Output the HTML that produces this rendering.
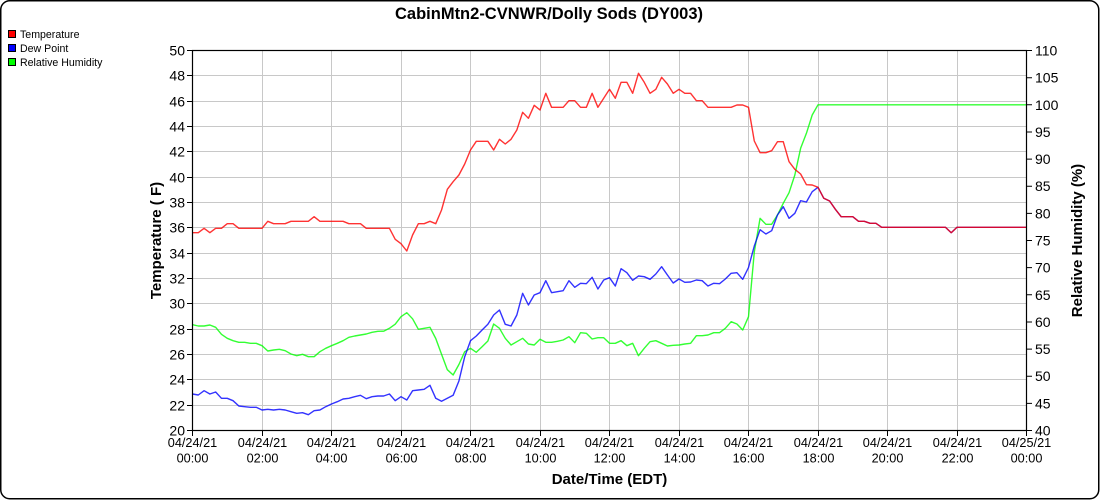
<!DOCTYPE html>
<html>
<head>
<meta charset="utf-8">
<style>
  html,body{margin:0;padding:0;background:#fff;}
  svg{display:block;}
  text{font-family:"Liberation Sans",Arial,sans-serif;fill:#000;}
</style>
</head>
<body>
<svg width="1100" height="500" viewBox="0 0 1100 500" xmlns="http://www.w3.org/2000/svg">
  <rect x="0" y="0" width="1100" height="500" fill="#fff"/>
  <rect x="0.75" y="0.75" width="1098" height="498" rx="9" ry="9" fill="none" stroke="#000" stroke-width="1.5"/>

  <!-- title -->
  <text x="549" y="19" font-size="16.5" font-weight="bold" text-anchor="middle">CabinMtn2-CVNWR/Dolly Sods (DY003)</text>

  <!-- legend -->
  <rect x="8.5" y="30.5" width="7" height="7" fill="#ff0000" stroke="#000" stroke-width="1"/>
  <text x="20" y="38" font-size="10.6">Temperature</text>
  <rect x="8.5" y="44.5" width="7" height="7" fill="#0000ff" stroke="#000" stroke-width="1"/>
  <text x="20" y="52" font-size="10.6">Dew Point</text>
  <rect x="8.5" y="58.5" width="7" height="7" fill="#00ff00" stroke="#000" stroke-width="1"/>
  <text x="20" y="66" font-size="10.6">Relative Humidity</text>

  <!-- grid -->
  <g stroke="#c8c8c8" stroke-width="1" fill="none">
    <path d="M192.5 405.5H1026.5M192.5 379.5H1026.5M192.5 354.5H1026.5M192.5 329.5H1026.5M192.5 303.5H1026.5M192.5 278.5H1026.5M192.5 253.5H1026.5M192.5 227.5H1026.5M192.5 202.5H1026.5M192.5 177.5H1026.5M192.5 151.5H1026.5M192.5 126.5H1026.5M192.5 101.5H1026.5M192.5 75.5H1026.5"/>
    <path d="M262.5 50.5V430.5M331.5 50.5V430.5M401.5 50.5V430.5M470.5 50.5V430.5M540.5 50.5V430.5M609.5 50.5V430.5M679.5 50.5V430.5M748.5 50.5V430.5M818.5 50.5V430.5M887.5 50.5V430.5M957.5 50.5V430.5"/>
  </g>

  <!-- series -->
  <g transform="translate(192.5,0) scale(5.7917,1)" fill="none" stroke-width="1.4" stroke-linejoin="round">
    <polyline vector-effect="non-scaling-stroke" stroke="#00ff00" stroke-opacity="0.8" points="0,324.7 1,326 2,326 3,325 4,327.3 5,334.3 6,338.3 7,340.7 8,342.3 9,342.3 10,343.3 11,343.3 12,345.7 13,351 14,350 15,349.3 16,350.7 17,354 18,355.7 19,354.3 20,356.7 21,356.7 22,351.7 23,348.3 24,345.7 25,343.3 26,340.7 27,337.3 28,336 29,335 30,334 31,332.3 32,331.3 33,331.2 34,328.3 35,324.2 36,316.7 37,312.7 38,318.8 39,329.3 40,328.3 41,327.3 42,338.5 43,354.2 44,369.7 45,375 46,364.5 47,351.7 48,348.3 49,352.3 50,346.7 51,341 52,324 53,328.3 54,338.3 55,345 56,341.7 57,338.3 58,344 59,345 60,339.3 61,342.3 62,342.3 63,341.3 64,340 65,336.7 66,342.7 67,332.7 68,333.3 69,339 70,337.7 71,337.7 72,343.3 73,343.3 74,340.7 75,345.7 76,343.3 77,355.7 78,348.3 79,341.7 80,340.7 81,343.3 82,346 83,345.3 84,345 85,344 86,343.3 87,335.7 88,335.7 89,335 90,332.7 91,332.7 92,328.3 93,321.7 94,324 95,330 96,316.7 97,252 98,218.3 99,224.3 100,224.3 101,215 102,203.3 103,192.7 104,175 105,148.3 106,133.3 107,115 108,104.8 144,104.8"/>
    <polyline vector-effect="non-scaling-stroke" stroke="#0000ff" stroke-opacity="0.8" points="0,394 1,395 2,390.7 3,394 4,392 5,398.3 6,398.3 7,400.7 8,406 9,406.7 10,407.3 11,407.3 12,410 13,409.3 14,410 15,409.3 16,410 17,411.7 18,413.3 19,412.7 20,414.7 21,410.7 22,410 23,406.7 24,404 25,401.7 26,399 27,398.3 28,396.7 29,395.3 30,398.7 31,396.7 32,396 33,396 34,394 35,400.7 36,396.7 37,400 38,390.7 39,390 40,389.3 41,385.3 42,398.3 43,401.3 44,398.3 45,395.3 46,381 47,356.7 48,340.7 49,336 50,330 51,324.3 52,315 53,310 54,324.3 55,326 56,315 57,293.3 58,305 59,295 60,292.7 61,280.7 62,292.7 63,291.7 64,290.7 65,280.7 66,287.3 67,283.3 68,283.7 69,277.3 70,289 71,280 72,277.7 73,286 74,268.7 75,272.7 76,280.3 77,276 78,276.7 79,279.3 80,274 81,266.7 82,275 83,283 84,279 85,282.3 86,282 87,280 88,280.7 89,286 90,283.3 91,283.7 92,279 93,273.3 94,272.7 95,279.3 96,267.5 97,246 98,229.7 99,234 100,230.7 101,215 102,206.7 103,218.3 104,213.3 105,200.7 106,202 107,191.7 108,187.3 109,198.3 110,201 111,209.3 112,216.7 114,216.7 115,221.3 116,221.3 117,223.3 118,223.3 119,227.3 130,227.3 131,232.7 132,227.3 144,227.3"/>
    <polyline vector-effect="non-scaling-stroke" stroke="#ff0000" stroke-opacity="0.8" points="0,232.7 1,232.7 2,228.3 3,232.7 4,228.3 5,228.3 6,223.7 7,223.7 8,228.3 12,228.3 13,221.3 14,223.7 16,223.7 17,221.3 20,221.3 21,216.7 22,221.3 26,221.3 27,223.7 29,223.7 30,228.3 34,228.3 35,239.3 36,243.7 37,251 38,235 39,223.7 40,223.7 41,221.3 42,223.7 43,210 44,189.3 45,181.7 46,175 47,164 48,150 49,141.3 51,141.3 52,150 53,139.3 54,144 55,139.3 56,130 57,112.3 58,118.3 59,105.3 60,110 61,93.3 62,107.3 64,107.3 65,100.7 66,100.7 67,107.3 68,107.3 69,93.3 70,107.3 71,98.3 72,89.3 73,98.3 74,82.3 75,82.3 76,93.3 77,73.3 78,82.3 79,93.3 80,89.3 81,77.3 82,84 83,93.3 84,89.3 85,93.3 86,93.3 87,100.7 88,100.7 89,107.3 93,107.3 94,105 95,105 96,107.3 97,141 98,152.7 99,152.7 100,150.7 101,141.7 102,141.7 103,161.7 104,169.3 105,174 106,184.7 107,185 108,187.3 109,198.3 110,201 111,209.3 112,216.7 114,216.7 115,221.3 116,221.3 117,223.3 118,223.3 119,227.3 130,227.3 131,232.7 132,227.3 144,227.3"/>
  </g>

  <!-- plot frame -->
  <rect x="192.5" y="50.5" width="834" height="380" fill="none" stroke="#000" stroke-width="1.2"/>

  <!-- left ticks -->
  <g stroke="#000" stroke-width="1">
    <path d="M187 430.5H192.5M187 405.5H192.5M187 379.5H192.5M187 354.5H192.5M187 329.5H192.5M187 303.5H192.5M187 278.5H192.5M187 253.5H192.5M187 227.5H192.5M187 202.5H192.5M187 177.5H192.5M187 151.5H192.5M187 126.5H192.5M187 101.5H192.5M187 75.5H192.5M187 50.5H192.5"/>
    <path d="M1026.5 430.5H1032M1026.5 403.4H1032M1026.5 376.2H1032M1026.5 349.1H1032M1026.5 322H1032M1026.5 294.8H1032M1026.5 267.6H1032M1026.5 240.5H1032M1026.5 213.4H1032M1026.5 186.2H1032M1026.5 159.1H1032M1026.5 132H1032M1026.5 104.8H1032M1026.5 77.7H1032M1026.5 50.5H1032"/>
    <path d="M192.5 430.5V436M262.5 430.5V436M331.5 430.5V436M401.5 430.5V436M470.5 430.5V436M540.5 430.5V436M609.5 430.5V436M679.5 430.5V436M748.5 430.5V436M818.5 430.5V436M887.5 430.5V436M957.5 430.5V436M1026.5 430.5V436"/>
  </g>

  <!-- left labels -->
  <g font-size="14" text-anchor="end">
    <text x="185" y="435.5">20</text>
    <text x="185" y="410.5">22</text>
    <text x="185" y="384.5">24</text>
    <text x="185" y="359.5">26</text>
    <text x="185" y="334.5">28</text>
    <text x="185" y="308.5">30</text>
    <text x="185" y="283.5">32</text>
    <text x="185" y="258.5">34</text>
    <text x="185" y="232.5">36</text>
    <text x="185" y="207.5">38</text>
    <text x="185" y="182.5">40</text>
    <text x="185" y="156.5">42</text>
    <text x="185" y="131.5">44</text>
    <text x="185" y="106.5">46</text>
    <text x="185" y="80.5">48</text>
    <text x="185" y="55.5">50</text>
  </g>

  <!-- right labels -->
  <g font-size="14" text-anchor="start">
    <text x="1035" y="435.5">40</text>
    <text x="1035" y="408.4">45</text>
    <text x="1035" y="381.2">50</text>
    <text x="1035" y="354.1">55</text>
    <text x="1035" y="327">60</text>
    <text x="1035" y="299.8">65</text>
    <text x="1035" y="272.6">70</text>
    <text x="1035" y="245.5">75</text>
    <text x="1035" y="218.4">80</text>
    <text x="1035" y="191.2">85</text>
    <text x="1035" y="164.1">90</text>
    <text x="1035" y="137">95</text>
    <text x="1035" y="109.8">100</text>
    <text x="1035" y="82.7">105</text>
    <text x="1035" y="55.5">110</text>
  </g>

  <!-- x labels -->
  <g font-size="12.7" text-anchor="middle">
    <text x="192.5" y="447">04/24/21</text><text x="192.5" y="462.5">00:00</text>
    <text x="262.5" y="447">04/24/21</text><text x="262.5" y="462.5">02:00</text>
    <text x="331.5" y="447">04/24/21</text><text x="331.5" y="462.5">04:00</text>
    <text x="401.5" y="447">04/24/21</text><text x="401.5" y="462.5">06:00</text>
    <text x="470.5" y="447">04/24/21</text><text x="470.5" y="462.5">08:00</text>
    <text x="540.5" y="447">04/24/21</text><text x="540.5" y="462.5">10:00</text>
    <text x="609.5" y="447">04/24/21</text><text x="609.5" y="462.5">12:00</text>
    <text x="679.5" y="447">04/24/21</text><text x="679.5" y="462.5">14:00</text>
    <text x="748.5" y="447">04/24/21</text><text x="748.5" y="462.5">16:00</text>
    <text x="818.5" y="447">04/24/21</text><text x="818.5" y="462.5">18:00</text>
    <text x="887.5" y="447">04/24/21</text><text x="887.5" y="462.5">20:00</text>
    <text x="957.5" y="447">04/24/21</text><text x="957.5" y="462.5">22:00</text>
    <text x="1026.5" y="447">04/25/21</text><text x="1026.5" y="462.5">00:00</text>
  </g>

  <!-- axis titles -->
  <text x="609.5" y="484" font-size="15" font-weight="bold" text-anchor="middle">Date/Time (EDT)</text>
  <text transform="translate(161,240.5) rotate(-90)" font-size="15" font-weight="bold" text-anchor="middle">Temperature ( F)</text>
  <text transform="translate(1082,240.5) rotate(-90)" font-size="15" font-weight="bold" text-anchor="middle">Relative Humidity (%)</text>
</svg>
</body>
</html>
